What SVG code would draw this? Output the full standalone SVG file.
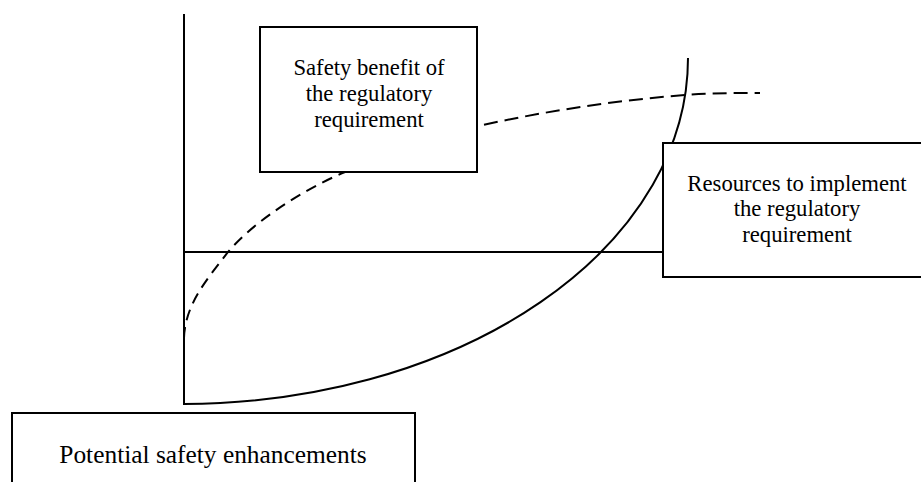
<svg xmlns="http://www.w3.org/2000/svg" width="921" height="482" viewBox="0 0 921 482">
<style>
.ln{fill:none;stroke:#000;stroke-width:2}
.dash{fill:none;stroke:#000;stroke-width:2}
.box{fill:#fff;stroke:#000;stroke-width:2}
.t{font-family:"Liberation Serif","Times New Roman",serif;font-size:22.7px;fill:#000;text-anchor:middle}
</style>
<rect width="921" height="482" fill="#fff"/>
<g id="connectors">
<line class="ln" x1="184" y1="14" x2="184" y2="405"/>
<line class="ln" x1="184" y1="252" x2="664" y2="252" stroke-width="1.6"/>
<path class="ln" d="M184,404 A506,346 0 0 0 688,58"/>
<path class="dash" stroke-dasharray="11 7" d="M184,338 C185,304 208,278 228,252 C253,222 303.5,189.4 345,172"/>
<path class="dash" stroke-dasharray="14 7" d="M345,172 C389.3,153.4 436.1,135.3 483,125 C549.4,110.4 617.2,100.4 685,95 C710,93 735,93 760,93"/>
</g>
<g id="safety-benefit">
<rect class="box" x="260" y="27" width="217" height="145"/>
<text class="t" x="369" y="75">Safety benefit of</text>
<text class="t" x="369" y="101">the regulatory</text>
<text class="t" x="369" y="127">requirement</text>
</g>
<g id="resources">
<rect class="box" x="663" y="143" width="259" height="134"/>
<text class="t" x="797" y="191">Resources to implement</text>
<text class="t" x="797" y="216">the regulatory</text>
<text class="t" x="797" y="242">requirement</text>
</g>
<g id="potential">
<rect class="box" x="12" y="413" width="403" height="80"/>
<text class="t" x="213" y="463" style="font-size:25.4px">Potential safety enhancements</text>
</g>
</svg>
